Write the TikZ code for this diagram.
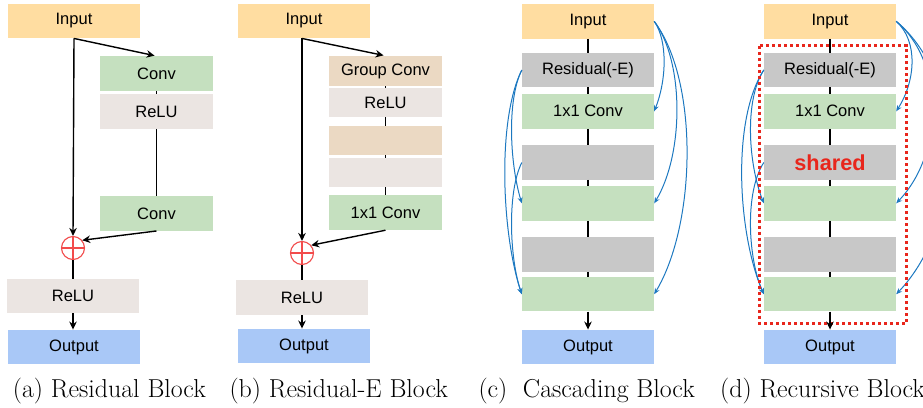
\documentclass[tikz,border=0pt]{standalone}
\usepackage{fontspec}
\setsansfont{Liberation Sans}
\usepackage{tikz}
\usetikzlibrary{arrows,arrows.meta,shapes}

\definecolor{incol}{HTML}{FFDDA1}
\definecolor{convcol}{HTML}{C5E0BF}
\definecolor{relucol}{HTML}{EBE5E2}
\definecolor{gcol}{HTML}{EBD9C3}
\definecolor{rescol}{HTML}{C8C8C8}
\definecolor{outcol}{HTML}{A9C8F7}
\definecolor{arccol}{HTML}{1C78C0}
\definecolor{pluscol}{HTML}{F24B4B}
\definecolor{sharecol}{HTML}{E8261C}

\begin{document}
\begin{tikzpicture}[x=1pt,y=1pt,>={Stealth[length=8pt,width=7.5pt]},
  blk/.style={rectangle,inner sep=0pt,minimum width=132pt,minimum height=34.5pt,
    font=\sffamily\fontsize{16.5}{18}\selectfont},
  sub/.style={blk,minimum width=113pt},
  plus/.style={circle,draw=pluscol,fill=white,line width=1.1pt,minimum size=23pt,inner sep=0pt,
    path picture={\draw[pluscol,line width=1.1pt]
      (path picture bounding box.north) -- (path picture bounding box.south)
      (path picture bounding box.west) -- (path picture bounding box.east);}},
  blkline/.style={line width=1.4pt,black},
  thickline/.style={line width=1.8pt,black},
  barr/.style={-{Stealth[length=6pt,width=5pt]},line width=1pt,arccol},
  captxt/.style={inner sep=0pt,anchor=base west,font=\fontsize{25.9}{28}\selectfont}]
\useasboundingbox (0,0) rectangle (923,-407);

% (a) residual block
\node[blk,fill=incol] (inA) at (74,-21) {Input};
\node[sub,fill=convcol] (convA) at (156.5,-73.5) {Conv};
\node[sub,fill=relucol] (reluA) at (156.5,-111.5) {ReLU};
\node[sub,fill=convcol] (convAA) at (156.5,-213.5) {Conv};
\node[plus] (plusA) at (73,-248) {};
\node[blk,fill=relucol] (reluAA) at (73,-296) {ReLU};
\node[blk,fill=outcol] (outA) at (74,-347) {Output};
\draw[blkline,->,shorten >=2pt] (inA.south) -- (convA.north);
\draw[blkline,->] (inA.south) -- (plusA.north);
\draw[blkline] (convA) -- (reluA);
\draw[blkline] (reluA) -- (convAA);
\draw[blkline,->] (convAA.south) -- (plusA.40);
\draw[blkline] (plusA) -- (reluAA);
\draw[blkline,->] (reluAA.south) -- (reluAA.south |- outA.north);

% (b) residual-E block
\node[blk,fill=incol] (inB) at (304,-21) {Input};
\node[sub,fill=gcol,minimum height=30pt] (gcB) at (385.5,-71) {Group Conv};
\node[sub,fill=relucol,minimum height=29pt] (reluB) at (385.5,-102.5) {ReLU};
\node[sub,fill=gcol,minimum height=29pt] (gcBB) at (385.5,-140.5) {};
\node[sub,fill=relucol,minimum height=29pt] (reluBB) at (385.5,-172.5) {};
\node[sub,fill=convcol,minimum height=35pt] (cvB) at (385.5,-212.5) {1x1 Conv};
\node[plus] (plusB) at (302,-253) {};
\node[blk,fill=relucol,minimum height=35pt] (reluB3) at (302,-297.5) {ReLU};
\node[blk,fill=outcol] (outB) at (304,-346) {Output};
\draw[blkline,->,shorten >=2pt] (inB.south -| plusB) -- (gcB.north);
\draw[blkline,->] (inB.south -| plusB) -- (plusB.north);
\foreach \a/\b in {gcB/reluB,reluB/gcBB,gcBB/reluBB,reluBB/cvB}
  \draw[blkline] (\a) -- (\b);
\draw[blkline,->] (cvB.south) -- (plusB.40);
\draw[blkline] (plusB) -- (reluB3);
\draw[blkline,->] (reluB3.south) -- (reluB3.south |- outB.north);

% (c) cascading and (d) recursive block
\foreach \p/\cx/\kr/\kl in {C/588/1/1,D/830/1.6/1.3}{
  \node[blk,fill=incol] (in\p) at (\cx,-21.3) {Input};
  \node[blk,fill=rescol] (res\p) at (\cx,-70) {Residual(-E)};
  \node[blk,fill=convcol] (cv\p) at (\cx,-111.3) {1x1 Conv};
  \node[blk,fill=rescol] (rb\p) at (\cx,-162.5) {};
  \node[blk,fill=convcol] (cb\p) at (\cx,-203.3) {};
  \node[blk,fill=rescol] (rc\p) at (\cx,-254.3) {};
  \node[blk,fill=convcol] (cc\p) at (\cx,-294.2) {};
  \node[blk,fill=outcol] (out\p) at (\cx,-347) {Output};
  \foreach \a/\b in {in/res,res/cv,cv/rb,rb/cb,cb/rc,rc/cc}
    \draw[thickline] (\a\p) -- (\b\p);
  % skip connections
  \draw[barr] (in\p.east) .. controls +({14*\kr},-20) and +({12*\kr},30) .. (cv\p.east);
  \draw[barr] (in\p.east) .. controls +({30*\kr},-40) and +({30*\kr},50) .. (cb\p.east);
  \draw[barr] (in\p.east) .. controls +({45*\kr},-60) and +({42*\kr},70) .. (cc\p.east);
  \draw[barr] (res\p.west) .. controls +({-15*\kl},-30) and +({-12*\kl},40) .. (cb\p.west);
  \draw[barr] (res\p.west) .. controls +({-25*\kl},-50) and +({-20*\kl},60) .. (cc\p.west);
  \draw[barr] (rb\p.west) .. controls +({-15*\kl},-30) and +({-12*\kl},35) .. (cc\p.west);
}
\node[font=\sffamily\bfseries\fontsize{21.7}{24}\selectfont,text=sharecol,inner sep=0pt] (shD) at (rbD) {shared};
\draw[sharecol,line width=3pt,dash pattern=on 3pt off 3pt]
  ([xshift=-4pt,yshift=7pt]resD.north west) rectangle ([xshift=10.5pt,yshift=-11.5pt]ccD.south east);
\draw[thickline,->] (ccC) -- (outC);
\draw[thickline,->] (ccD) -- (outD);

% captions
\node[captxt] (capA) at (12.7,-397.3) {(a) Residual Block};
\node[captxt] (capB) at (229.3,-397.3) {(b) Residual-E Block};
\node[captxt] (capC) at (478.3,-397.3) {(c)\hspace{0.3em} Cascading Block};
\node[captxt] (capD) at (720,-397.3) {(d) Recursive Block};
\end{tikzpicture}
\end{document}
